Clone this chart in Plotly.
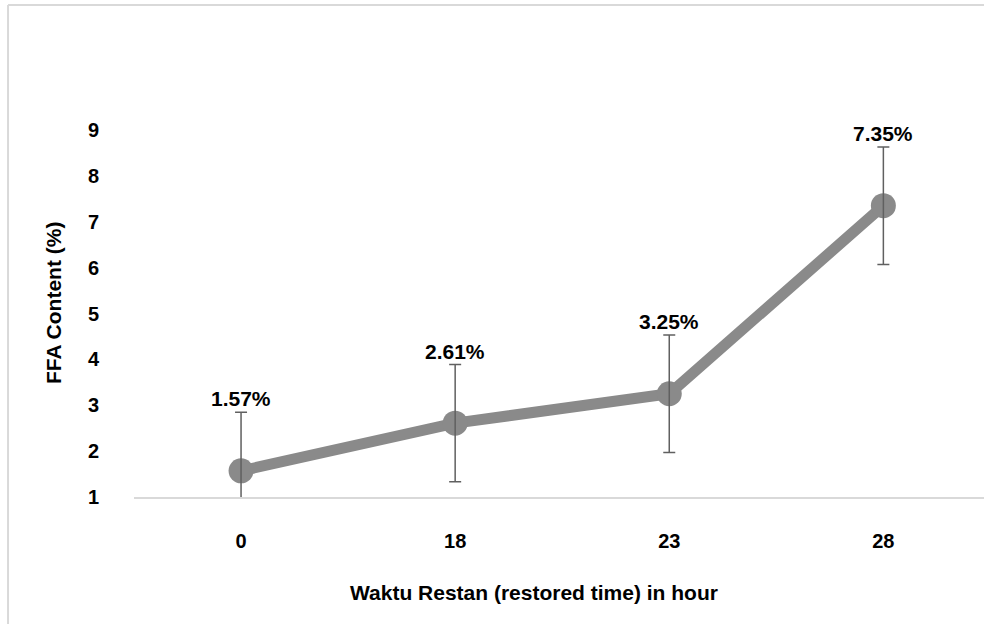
import plotly.graph_objects as go

# Data
hours = ["0", "18", "23", "28"]
ffa = [1.57, 2.61, 3.25, 7.35]
ffa_err = [1.28, 1.28, 1.28, 1.28]
labels = [f"{v:.2f}%" for v in ffa]
y_ticks = [1, 2, 3, 4, 5, 6, 7, 8, 9]

FONT = "Liberation Sans, Arial, sans-serif"
LINE_GRAY = "#8a8a8a"
ERR_GRAY = "#606060"

fig = go.Figure()
fig.add_trace(go.Scatter(
    x=hours, y=ffa,
    mode="lines+markers",
    line=dict(color=LINE_GRAY, width=11),
    marker=dict(color=LINE_GRAY, size=25),
    hoverinfo="x+y",
    showlegend=False,
))
# error bars drawn on top of the markers
fig.add_trace(go.Scatter(
    x=hours, y=ffa,
    mode="markers",
    marker=dict(color="rgba(0,0,0,0)", size=1),
    error_y=dict(type="data", array=ffa_err, visible=True,
                 color=ERR_GRAY, thickness=1.5, width=6),
    hoverinfo="skip",
    showlegend=False,
))

for i, (v, t) in enumerate(zip(ffa, labels)):
    fig.add_annotation(x=i, y=v, text=t, showarrow=False, yshift=72,
                       xanchor="center", yanchor="middle",
                       font=dict(family=FONT, size=21, color="#000000", weight=700))

fig.add_annotation(xref="paper", yref="paper", x=0.4706, y=-0.2589,
                   text="Waktu Restan (restored time) in hour", showarrow=False,
                   xanchor="center", yanchor="middle",
                   font=dict(family=FONT, size=21, color="#000000", weight=700))
fig.add_annotation(xref="paper", yref="paper", x=-0.0953, y=0.531,
                   text="FFA Content (%)", showarrow=False, textangle=-90,
                   xanchor="center", yanchor="middle",
                   font=dict(family=FONT, size=21, color="#000000", weight=700))

# chart-area border (left and top edges visible)
fig.add_shape(type="line", xref="paper", yref="paper", x0=-0.1482, x1=-0.1482,
              y0=-0.346, y1=1.3406, line=dict(color="#d9d9d9", width=2))
fig.add_shape(type="line", xref="paper", yref="paper", x0=-0.1482, x1=1.0,
              y0=1.3406, y1=1.3406, line=dict(color="#d9d9d9", width=2))

fig.update_layout(
    width=984, height=624,
    margin=dict(l=134, r=0, t=130, b=127),
    paper_bgcolor="white", plot_bgcolor="white",
    font=dict(family=FONT, color="#000000"),
    xaxis=dict(type="category", range=[-0.5, 3.47], showgrid=False,
               showline=True, linecolor="#d9d9d9", linewidth=1.5,
               ticks="", zeroline=False, ticklabelstandoff=25,
               tickfont=dict(family=FONT, size=20, color="#000000", weight=700)),
    yaxis=dict(range=[1, 9], tickvals=y_ticks, showgrid=False,
               showline=False, zeroline=False, ticks="",
               ticklabelstandoff=34,
               tickfont=dict(family=FONT, size=20, color="#000000", weight=700)),
)

fig.write_html(
    "out.html",
    config={"displayModeBar": False},
    post_script=(
        "document.documentElement.style.overflow='hidden';"
        "document.body.style.margin='0';document.body.style.overflow='hidden';"
    ),
)
